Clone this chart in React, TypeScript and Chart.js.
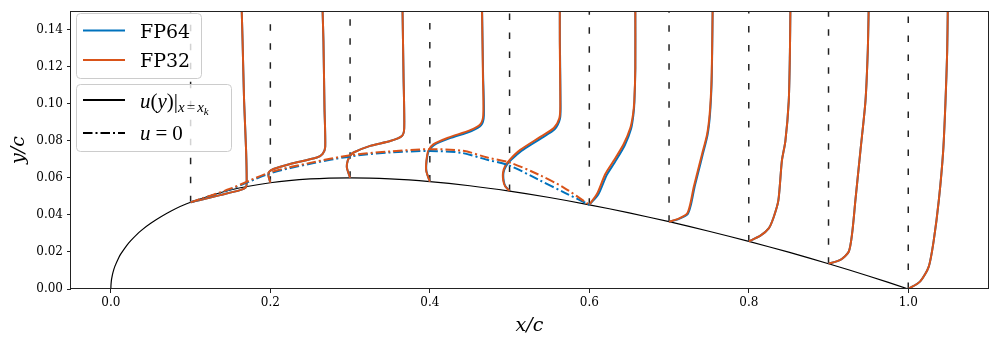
import React, { useEffect, useRef } from 'react';
import { Chart, registerables } from 'chart.js';

Chart.register(...registerables);

// ---------- axes ----------
const X_MIN = -0.05;
const X_MAX = 1.1;
const Y_MIN = 0;
const Y_MAX = 0.15;
const X_TICKS = [0.0, 0.2, 0.4, 0.6, 0.8, 1.0];
const Y_TICKS = [0.0, 0.02, 0.04, 0.06, 0.08, 0.1, 0.12, 0.14];
const X_LABEL = 'x/c';
const Y_LABEL = 'y/c';

// ---------- airfoil upper surface ----------
const AIRFOIL_X = [0, 0.0001, 0.0005, 0.001, 0.0025, 0.005, 0.01, 0.0125, 0.02, 0.025, 0.0375, 0.05, 0.075, 0.1, 0.15, 0.2, 0.25, 0.3, 0.35, 0.4, 0.45, 0.5, 0.55, 0.6, 0.65, 0.7, 0.75, 0.8, 0.85, 0.9, 0.95, 1.0];
const AIRFOIL_Y = [0, 0.00177, 0.00395, 0.00556, 0.00872, 0.01221, 0.01704, 0.01894, 0.0236, 0.02615, 0.03138, 0.03555, 0.042, 0.04683, 0.05345, 0.05737, 0.05941, 0.06002, 0.05947, 0.058, 0.05576, 0.05286, 0.04941, 0.04547, 0.0411, 0.03634, 0.0312, 0.02571, 0.01987, 0.01365, 0.00704, 0];

// ---------- profile stations ----------
const STATIONS = [0.1, 0.2, 0.3, 0.4, 0.5, 0.6, 0.7, 0.8, 0.9, 1.0];

// ---------- FP32 velocity profiles (x_k + scaled u, y) ----------
const FP32_P01: number[][] = [[0.1, 0.0468], [0.1119, 0.0481], [0.137, 0.0507], [0.1621, 0.0534], [0.169, 0.0548], [0.1703, 0.0569], [0.1696, 0.0746], [0.1671, 0.1013], [0.1652, 0.1335], [0.164, 0.152]];
const FP32_P02: number[][] = [[0.2, 0.0574], [0.1976, 0.0612], [0.1985, 0.0633], [0.2039, 0.0648], [0.2248, 0.0675], [0.2583, 0.071], [0.2656, 0.073], [0.2688, 0.0767], [0.2679, 0.0978], [0.2666, 0.1335], [0.2654, 0.152]];
const FP32_P03: number[][] = [[0.3, 0.06], [0.296, 0.0655], [0.297, 0.0692], [0.3001, 0.0719], [0.3043, 0.0737], [0.3252, 0.0773], [0.3503, 0.0799], [0.365, 0.0826], [0.3679, 0.0869], [0.367, 0.1156], [0.3657, 0.152]];
const FP32_P04: number[][] = [[0.4, 0.0579], [0.3955, 0.0638], [0.3957, 0.0692], [0.398, 0.0746], [0.4043, 0.0781], [0.4231, 0.0817], [0.4507, 0.0858], [0.4632, 0.0889], [0.467, 0.0938], [0.4666, 0.1156], [0.4654, 0.152]];
const FP32_P05: number[][] = [[0.5, 0.053], [0.4946, 0.0553], [0.4921, 0.0585], [0.4918, 0.0628], [0.4946, 0.0665], [0.5009, 0.0701], [0.5134, 0.0751], [0.5385, 0.0821], [0.5555, 0.0869], [0.5624, 0.0922], [0.5636, 0.0987], [0.563, 0.1335], [0.563, 0.152]];
const FP32_P06: number[][] = [[0.6, 0.0455], [0.6097, 0.0514], [0.6201, 0.0621], [0.6305, 0.0692], [0.643, 0.0782], [0.6514, 0.0869], [0.6548, 0.0942], [0.6564, 0.1013], [0.6577, 0.1192], [0.6577, 0.152]];
const FP32_P07: number[][] = [[0.7, 0.0363], [0.712, 0.038], [0.7226, 0.0407], [0.7267, 0.046], [0.7309, 0.0549], [0.7351, 0.0621], [0.7414, 0.0728], [0.7477, 0.0835], [0.7509, 0.0942], [0.7531, 0.1103], [0.754, 0.1281], [0.7547, 0.152]];
const FP32_P08: number[][] = [[0.8, 0.0257], [0.8146, 0.0288], [0.825, 0.0327], [0.8313, 0.0389], [0.8371, 0.0478], [0.8415, 0.0692], [0.8459, 0.0799], [0.8501, 0.1013], [0.8516, 0.1281], [0.8522, 0.152]];
const FP32_P09: number[][] = [[0.9, 0.0137], [0.9149, 0.0157], [0.9253, 0.0201], [0.9296, 0.03], [0.9337, 0.0478], [0.94, 0.0746], [0.9463, 0.1013], [0.9492, 0.1281], [0.9504, 0.152]];
const FP32_P10: number[][] = [[1.0, 0.0], [1.015, 0.0041], [1.0257, 0.0121], [1.032, 0.0264], [1.0383, 0.0478], [1.0438, 0.0746], [1.0467, 0.1013], [1.0488, 0.1281], [1.0496, 0.152]];

// ---------- FP64 velocity profiles ----------
const FP64_P04: number[][] = [[0.4, 0.0579], [0.3957, 0.0638], [0.396, 0.0692], [0.3985, 0.0744], [0.4052, 0.0777], [0.4245, 0.0813], [0.4522, 0.0853], [0.4644, 0.0885], [0.4678, 0.0936], [0.4668, 0.1156], [0.4655, 0.152]];
const FP64_P05: number[][] = [[0.5, 0.053], [0.495, 0.0553], [0.4926, 0.0585], [0.4924, 0.0628], [0.4955, 0.0663], [0.502, 0.0697], [0.5148, 0.0746], [0.54, 0.0815], [0.5568, 0.0864], [0.5632, 0.0919], [0.564, 0.0987], [0.5631, 0.1335], [0.563, 0.152]];
const FP64_P06: number[][] = [[0.6, 0.0455], [0.6112, 0.051], [0.6218, 0.0615], [0.6322, 0.0686], [0.6445, 0.0776], [0.6524, 0.0865], [0.6553, 0.094], [0.6566, 0.1013], [0.6577, 0.1192], [0.6577, 0.152]];
const FP64_P07: number[][] = [[0.7, 0.0363], [0.7125, 0.0379], [0.7234, 0.0405], [0.7276, 0.0458], [0.7318, 0.0547], [0.736, 0.0619], [0.7422, 0.0726], [0.7483, 0.0833], [0.7513, 0.094], [0.7533, 0.1103], [0.7541, 0.1281], [0.7547, 0.152]];

const FP32_PROFILES = [FP32_P01, FP32_P02, FP32_P03, FP32_P04, FP32_P05, FP32_P06, FP32_P07, FP32_P08, FP32_P09, FP32_P10];
const FP64_PROFILES = [FP32_P01, FP32_P02, FP32_P03, FP64_P04, FP64_P05, FP64_P06, FP64_P07, FP32_P08, FP32_P09, FP32_P10];

// ---------- u = 0 contours ----------
const FP32_U0: number[][] = [[0.1, 0.0468], [0.1496, 0.0541], [0.1997, 0.063], [0.2499, 0.0681], [0.3001, 0.0722], [0.3503, 0.0743], [0.4006, 0.0755], [0.4419, 0.0746], [0.472, 0.071], [0.5, 0.0683], [0.5348, 0.0621], [0.5674, 0.0549], [0.6, 0.0455]];
const FP64_U0: number[][] = [[0.1, 0.0468], [0.15, 0.0538], [0.2, 0.0625], [0.25, 0.0676], [0.3, 0.0716], [0.35, 0.0737], [0.4, 0.0745], [0.44, 0.0735], [0.47, 0.07], [0.5, 0.0666], [0.535, 0.0593], [0.57, 0.0518], [0.6, 0.0455]];

// ---------- styles ----------
const C64 = '#0072BD';
const C32 = '#D95319';
const TICK_FONT = 'DejaVu Serif';
const MATH_FONT = 'Liberation Serif';
const DASH_DOT = [9.5, 3, 2, 3];

const pts = (arr: number[][]) => arr.map(([x, y]) => ({ x, y }));

const wallY = (s: number) => {
  const i = AIRFOIL_X.findIndex((v) => Math.abs(v - s) < 1e-9);
  return AIRFOIL_Y[i];
};

function drawRuns(ctx: CanvasRenderingContext2D, x: number, base: number, runs: any[]) {
  let cx = x;
  for (const r of runs) {
    ctx.font = `${r.italic ? 'italic ' : ''}${r.size}px "${r.family || MATH_FONT}"`;
    ctx.fillText(r.text, cx, base + (r.dy || 0));
    cx += ctx.measureText(r.text).width + (r.gap || 0);
  }
}

const overlayPlugin = {
  id: 'overlay',
  afterDraw(chart: any) {
    const ctx: CanvasRenderingContext2D = chart.ctx;
    const a = chart.chartArea;
    ctx.save();
    // frame
    ctx.strokeStyle = '#222';
    ctx.lineWidth = 1;
    ctx.setLineDash([]);
    ctx.strokeRect(Math.round(a.left) - 0.5, Math.round(a.top) + 0.5, Math.round(a.right - a.left) + 1, Math.round(a.bottom - a.top) - 1);

    const box = (x: number, y: number, w: number, h: number) => {
      ctx.beginPath();
      (ctx as any).roundRect(x, y, w, h, 4);
      ctx.fillStyle = 'rgba(255,255,255,0.8)';
      ctx.fill();
      ctx.strokeStyle = '#cccccc';
      ctx.lineWidth = 1;
      ctx.stroke();
    };
    const seg = (y: number, color: string, dash: number[]) => {
      ctx.beginPath();
      ctx.setLineDash(dash);
      ctx.strokeStyle = color;
      ctx.lineWidth = 2;
      ctx.lineCap = 'butt';
      ctx.moveTo(83, y);
      ctx.lineTo(125, y);
      ctx.stroke();
      ctx.setLineDash([]);
    };
    ctx.textBaseline = 'alphabetic';
    ctx.textAlign = 'left';

    box(76.5, 13.5, 125, 65);
    seg(30.5, C64, []);
    seg(60, C32, []);
    ctx.fillStyle = '#000';
    ctx.font = `19px "${TICK_FONT}"`;
    ctx.fillText('FP64', 140, 37.5);
    ctx.fillText('FP32', 140, 67);

    box(76.5, 84.5, 155, 67);
    seg(100, '#000', []);
    seg(133, '#000', DASH_DOT);
    ctx.fillStyle = '#000';
    drawRuns(ctx, 140, 108, [
      { text: 'u', italic: true, size: 21 },
      { text: '(', size: 21 },
      { text: 'y', italic: true, size: 21 },
      { text: ')', size: 21 },
      { text: '|', size: 21 },
      { text: 'x', italic: true, size: 15, dy: 4, gap: 2 },
      { text: '=', size: 15, dy: 4, gap: 2 },
      { text: 'x', italic: true, size: 15, dy: 4 },
      { text: 'k', italic: true, size: 11, dy: 7 },
    ]);
    drawRuns(ctx, 140, 140, [
      { text: 'u', italic: true, size: 21, gap: 5 },
      { text: '=', size: 21, gap: 5 },
      { text: '0', size: 21 },
    ]);
    ctx.restore();
  },
};

export default function App() {
  const ref = useRef<HTMLCanvasElement | null>(null);

  useEffect(() => {
    if (!ref.current) return;
    const datasets: any[] = [];
    datasets.push({
      data: AIRFOIL_X.map((x, i) => ({ x, y: AIRFOIL_Y[i] })),
      borderColor: '#000',
      borderWidth: 1.2,
      tension: 0.3,
      order: 10,
    });
    STATIONS.forEach((s) => {
      datasets.push({
        data: [{ x: s, y: wallY(s) }, { x: s, y: Y_MAX + 0.003 }],
        borderColor: '#222',
        borderWidth: 1.5,
        borderDash: [6.5, 12.5],
        order: 9,
      });
    });
    FP64_PROFILES.forEach((p) => {
      datasets.push({ data: pts(p), borderColor: C64, borderWidth: 2, tension: 0.25, order: 8 });
    });
    FP32_PROFILES.forEach((p) => {
      datasets.push({ data: pts(p), borderColor: C32, borderWidth: 2, tension: 0.25, order: 7 });
    });
    datasets.push({ data: pts(FP64_U0), borderColor: C64, borderWidth: 2, borderDash: DASH_DOT, tension: 0.3, order: 6 });
    datasets.push({ data: pts(FP32_U0), borderColor: C32, borderWidth: 2, borderDash: DASH_DOT, tension: 0.3, order: 5 });
    datasets.forEach((d) => {
      d.showLine = true;
      d.pointRadius = 0;
      d.pointHoverRadius = 0;
      d.fill = false;
      d.borderCapStyle = 'butt';
    });

    const tickFont = { family: TICK_FONT, size: 12 };
    const chart = new Chart(ref.current, {
      type: 'scatter',
      data: { datasets },
      plugins: [overlayPlugin],
      options: {
        animation: false,
        responsive: false,
        maintainAspectRatio: false,
        devicePixelRatio: 1,
        events: [],
        layout: { padding: { left: 0, right: 9, top: 9, bottom: 0 } },
        plugins: { legend: { display: false }, tooltip: { enabled: false } },
        scales: {
          x: {
            type: 'linear',
            min: X_MIN,
            max: X_MAX,
            afterBuildTicks: (s: any) => { s.ticks = X_TICKS.map((v) => ({ value: v })); },
            afterFit: (s: any) => { s.height = 56; },
            ticks: { font: tickFont, color: '#000', padding: 3, autoSkip: false, maxRotation: 0, callback: (v: any) => Number(v).toFixed(1) },
            grid: { drawOnChartArea: false, drawTicks: true, tickLength: 4, color: '#222', lineWidth: 1 },
            border: { display: false },
            title: { display: true, text: X_LABEL, color: '#000', font: { family: TICK_FONT, size: 19, style: 'italic' }, padding: { top: 0, bottom: 8 } },
          },
          y: {
            type: 'linear',
            min: Y_MIN,
            max: Y_MAX,
            afterBuildTicks: (s: any) => { s.ticks = Y_TICKS.map((v) => ({ value: v })); },
            afterFit: (s: any) => { s.width = 71; },
            ticks: { font: tickFont, color: '#000', padding: 4, autoSkip: false, callback: (v: any) => Number(v).toFixed(2) },
            grid: { drawOnChartArea: false, drawTicks: true, tickLength: 4, color: '#222', lineWidth: 1 },
            border: { display: false },
            title: { display: true, text: Y_LABEL, color: '#000', font: { family: TICK_FONT, size: 19, style: 'italic' }, padding: { top: 8, bottom: 0 } },
          },
        },
      } as any,
    });
    return () => chart.destroy();
  }, []);

  return (
    <div style={{ position: 'absolute', left: 0, top: 0, width: 997, height: 345, background: '#fff' }}>
      <canvas ref={ref} width={997} height={345} style={{ display: 'block' }} />
    </div>
  );
}
